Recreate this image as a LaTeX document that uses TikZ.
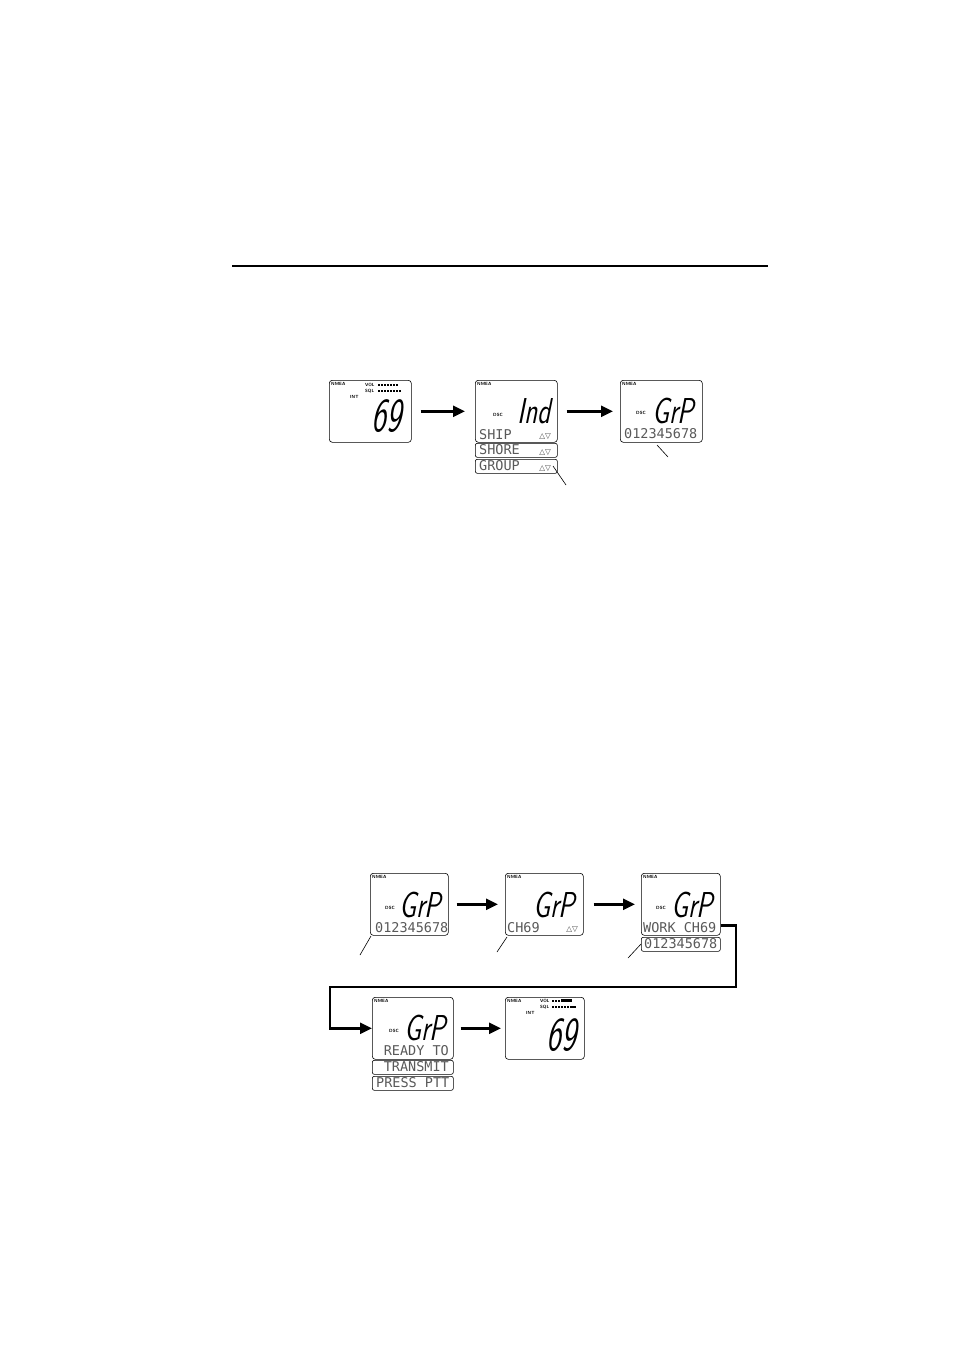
\documentclass[tikz,border=0pt]{standalone}
\usepackage{fontspec}
\usetikzlibrary{arrows.meta}
\newfontfamily\segfont{lmsans10-regular.otf}[FakeSlant=0.2,FakeStretch=0.7]
\newfontfamily\segnarrow{lmsans10-regular.otf}[FakeSlant=0.2,FakeStretch=0.62]
\newfontfamily\lcdfont{DejaVu Sans Mono}
\newfontfamily\symfont{DejaVu Sans}

\begin{document}
\begin{tikzpicture}[x=1pt, y=-1pt,
    screen/.style={draw, line width=0.6pt, rounded corners=3pt, anchor=north west, minimum width=82pt, minimum height=62pt, inner sep=0pt},
    lcdrow/.style={draw, line width=0.6pt, rounded corners=2pt, anchor=north west, minimum width=82pt, minimum height=14pt, inner sep=0pt},
    tag/.style={font=\sffamily\bfseries\fontsize{4.5}{5}\selectfont, inner sep=0pt, anchor=west},
    big/.style={font=\segfont\fontsize{36}{36}\selectfont, inner sep=0pt, anchor=base east},
    bignum/.style={font=\segnarrow\fontsize{47}{47}\selectfont, inner sep=0pt, anchor=base east},
    lcd/.style={font=\lcdfont\fontsize{13.5}{13.5}\selectfont, text=black!65, inner sep=0pt},
    keys/.style={font=\symfont\fontsize{7.5}{8}\selectfont, text=black!75, inner sep=0pt, anchor=base east},
    flow/.style={-{Triangle[length=12pt,width=11pt]}, line width=2.6pt},
    ptr/.style={line width=0.6pt}
]
\useasboundingbox (0,0) rectangle (954,1351);

% Rule
\coordinate (ruleL) at (232,266);
\coordinate (ruleR) at (768,266);
\draw[line width=1.3pt] (ruleL) -- (ruleR);

% Top row: 69 -> Ind -> GrP
\node[screen] (ch69) at (329,380) {};
\node[tag] (nm1) at (331,384) {NMEA};
\node[tag] (vol1) at (365,385) {VOL};
\node[tag] (sql1) at (365,391) {SQL};
\node[tag] (int1) at (350,397) {INT};
\foreach \i in {0,...,6} \fill (378+3*\i,383.5) rectangle ++(2,2.6);
\foreach \i in {0,...,7} \fill (378+3*\i,389.5) rectangle ++(2,2.6);
\node[bignum] (num1) at (401,431) {69};

\node[screen] (ind) at (475,380) {};
\node[tag] (nm2) at (477,384) {NMEA};
\node[tag] (dsc2) at (493,415) {DSC};
\node[big] (txt2) at (551,423) {Ind};
\node[lcd, anchor=base west] (ship) at (479,439.5) {SHIP};
\node[keys] (k2) at (551,438) {△▽};
\node[lcdrow] (shore) at (475,443) {};
\node[lcd, anchor=base west] (shoret) at (479,454.5) {SHORE};
\node[keys] (k3) at (551,454) {△▽};
\node[lcdrow] (group) at (475,459) {};
\node[lcd, anchor=base west] (groupt) at (479,470.5) {GROUP};
\node[keys] (k4) at (551,470) {△▽};

\node[screen] (grp) at (620,380) {};
\node[tag] (nm3) at (622,384) {NMEA};
\node[tag] (dsc3) at (636,413) {DSC};
\node[big] (txt3) at (694,423) {GrP};
\node[lcd, anchor=base west] (id3) at (624,438.5) {012345678};

\draw[flow, shorten <=9pt, shorten >=10pt] (ch69) -- (ind);
\draw[flow, shorten <=9pt, shorten >=7pt] (ind) -- (grp);

\coordinate (tipA) at (553,466);
\coordinate (endA) at (566,485);
\draw[ptr] (tipA) -- (endA);
\coordinate (tipB) at (657,445);
\coordinate (endB) at (668,457);
\draw[ptr] (tipB) -- (endB);

% Bottom rows: GrP -> GrP -> GrP -> GrP -> 69
\node[screen, minimum width=78pt] (grpid) at (370,873) {};
\node[tag] (nm4) at (372,877) {NMEA};
\node[tag] (dsc4) at (385,908) {DSC};
\node[big] (txt4) at (441,917) {GrP};
\node[lcd, anchor=base west] (id4) at (375,932) {012345678};

\node[screen, minimum width=78pt] (grpch) at (505,873) {};
\node[tag] (nm5) at (507,877) {NMEA};
\node[big] (txt5) at (575,917) {GrP};
\node[lcd, anchor=base west] (ch5) at (507,932) {CH69};
\node[keys] (k5) at (578,931) {△▽};

\node[screen, minimum width=79pt] (grpwork) at (641,873) {};
\node[tag] (nm6) at (643,877) {NMEA};
\node[tag] (dsc6) at (656,908) {DSC};
\node[big] (txt6) at (713,917) {GrP};
\node[lcd, anchor=base west] (work) at (643,932) {WORK CH69};
\node[lcdrow, minimum width=79pt] (workid) at (641,937) {};
\node[lcd, anchor=base west] (id6) at (644,948.5) {012345678};

\draw[flow, shorten <=8pt, shorten >=7pt] (grpid) -- (grpch);
\draw[flow, shorten <=10pt, shorten >=6pt] (grpch) -- (grpwork);

\coordinate (tipC) at (371,936);
\coordinate (endC) at (360,955);
\draw[ptr] (tipC) -- (endC);
\coordinate (tipD) at (507,937);
\coordinate (endD) at (497,952);
\draw[ptr] (tipD) -- (endD);
\coordinate (tipE) at (641,944);
\coordinate (endE) at (628,958);
\draw[ptr] (tipE) -- (endE);

\node[screen, minimum width=81pt] (ready) at (372,997) {};
\node[tag] (nm7) at (374,1001) {NMEA};
\node[tag] (dsc7) at (389,1031) {DSC};
\node[big] (txt7) at (446,1040) {GrP};
\node[lcd, anchor=base east] (rdy) at (449,1055.5) {READY TO};
\node[lcdrow, minimum width=81pt] (trans) at (372,1060) {};
\node[lcd, anchor=base east] (transt) at (449,1071.5) {TRANSMIT};
\node[lcdrow, minimum width=81pt] (ptt) at (372,1076) {};
\node[lcd, anchor=base west] (pttt) at (376,1087.5) {PRESS PTT};

\node[screen, minimum width=79pt] (ch69b) at (505,997) {};
\node[tag] (nm8) at (507,1001) {NMEA};
\node[tag] (vol8) at (540,1001) {VOL};
\node[tag] (sql8) at (540,1007) {SQL};
\node[tag] (int8) at (526,1013) {INT};
\foreach \i in {0,...,2} \fill (552+3*\i,999.5) rectangle ++(2,2.6);
\fill (561,999.3) rectangle (572,1002.3);
\foreach \i in {0,...,5} \fill (552+3*\i,1006) rectangle ++(2,2.2);
\fill (570,1005.9) rectangle (576,1008.2);
\node[bignum] (num8) at (576,1050) {69};

\coordinate (bendR) at (736,987);
\coordinate (bendL) at (330,987);
\draw[flow] ([yshift=10pt]grpwork.south east) -| (bendR) -- (bendL) |- (ready.west);
\draw[flow, shorten <=7pt, shorten >=4pt] (ready) -- (ch69b);

\end{tikzpicture}
\end{document}
